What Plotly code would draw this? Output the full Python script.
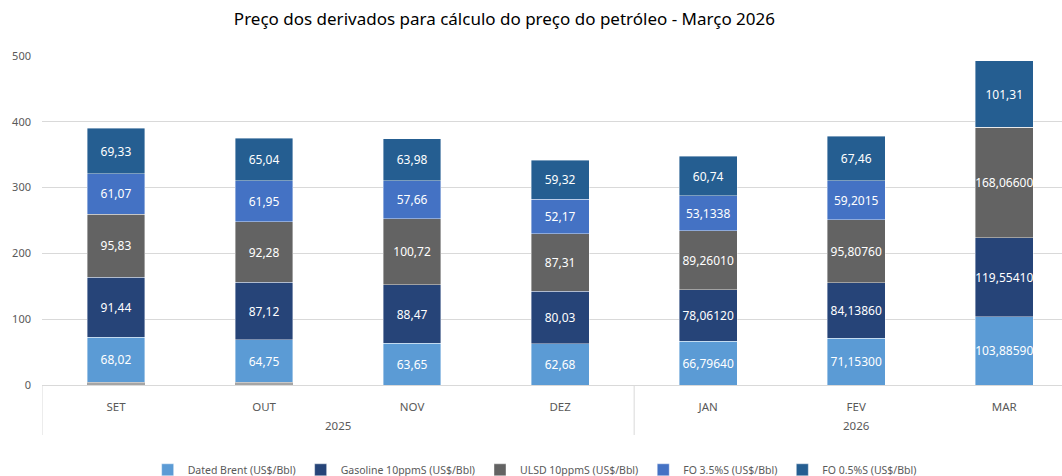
import plotly.graph_objects as go

months = ["SET", "OUT", "NOV", "DEZ", "JAN", "FEV", "MAR"]
year_labels = ["2025", "2026"]
year_centers = [1.5, 5.0]
year_bounds = [-0.5, 3.5]

outros = [4.5, 4.0, 0, 0, 0, 0, 0]
dated_brent = [68.02, 64.75, 63.65, 62.68, 66.7964, 71.153, 103.8859]
gasoline = [91.44, 87.12, 88.47, 80.03, 78.0612, 84.1386, 119.5541]
ulsd = [95.83, 92.28, 100.72, 87.31, 89.2601, 95.8076, 168.066]
fo35 = [61.07, 61.95, 57.66, 52.17, 53.1338, 59.2015, 0]
fo05 = [69.33, 65.04, 63.98, 59.32, 60.74, 67.46, 101.31]

dec_main = [2, 2, 2, 2, 5, 5, 5]
dec_fo35 = [2, 2, 2, 2, 4, 4, 4]
dec_fo05 = [2, 2, 2, 2, 2, 2, 2]


def labels(vals, decs):
    out = []
    for v, d in zip(vals, decs):
        out.append("" if v == 0 else f"{v:.{d}f}".replace(".", ","))
    return out


series = [
    ("Dated Brent (US$/Bbl)", dated_brent, dec_main, "#5b9bd5"),
    ("Gasoline 10ppmS (US$/Bbl)", gasoline, dec_main, "#264478"),
    ("ULSD 10ppmS (US$/Bbl)", ulsd, dec_main, "#636363"),
    ("FO 3.5%S (US$/Bbl)", fo35, dec_fo35, "#4472c4"),
    ("FO 0.5%S (US$/Bbl)", fo05, dec_fo05, "#255e91"),
]

FONT = "Noto Sans"
fig = go.Figure()
fig.add_trace(go.Bar(
    x=months, y=outros, name="Outros", showlegend=False,
    marker=dict(color="#a5a5a5", line=dict(width=0)), hoverinfo="skip",
))
for name, vals, decs, col in series:
    fig.add_trace(go.Bar(
        x=months, y=vals, name=name,
        text=labels(vals, decs), textposition="inside",
        insidetextanchor="middle", textangle=0,
        textfont=dict(color="white", size=12, family=FONT),
        marker=dict(color=col, line=dict(color="rgba(255,255,255,0.5)", width=0.8)),
    ))

for yl, xc in zip(year_labels, year_centers):
    fig.add_annotation(x=xc, xref="x", y=-40 / 329, yref="paper",
                       text=yl, showarrow=False, yanchor="middle",
                       font=dict(size=11.5, color="#595959", family=FONT))
for xb in year_bounds:
    fig.add_shape(type="line", xref="x", yref="paper", x0=xb, x1=xb,
                  y0=0, y1=-50 / 329, line=dict(color="#d9d9d9", width=1))

fig.update_layout(
    barmode="stack",
    bargap=0.61,
    width=1062, height=476,
    margin=dict(l=42, r=0, t=56, b=91),
    paper_bgcolor="white", plot_bgcolor="white",
    font=dict(family=FONT, color="#595959", size=11),
    uniformtext=dict(minsize=12, mode="show"),
    title=dict(text="Preço dos derivados para cálculo do preço do petróleo - Março 2026",
               x=0.475, xanchor="center", y=0.96, yanchor="middle",
               font=dict(size=17, color="#000000", family=FONT)),
    legend=dict(orientation="h", x=0.483, xanchor="center", y=0.013, yref="container",
                yanchor="middle",
                font=dict(size=10.5, color="#595959"), traceorder="normal",
                itemwidth=30),
    showlegend=True,
)
fig.update_yaxes(range=[0, 500], dtick=100, showgrid=True, gridcolor="#d9d9d9",
                 gridwidth=1, zeroline=False, tickfont=dict(size=11, color="#595959"),
                 ticklabelstandoff=10, automargin=False)
fig.update_xaxes(showline=True, linecolor="#d9d9d9", showgrid=False,
                 tickfont=dict(size=11.5, color="#595959"),
                 range=[-0.5, 6.39], automargin=False, ticklabelstandoff=11)

fig.write_html("out.html")
